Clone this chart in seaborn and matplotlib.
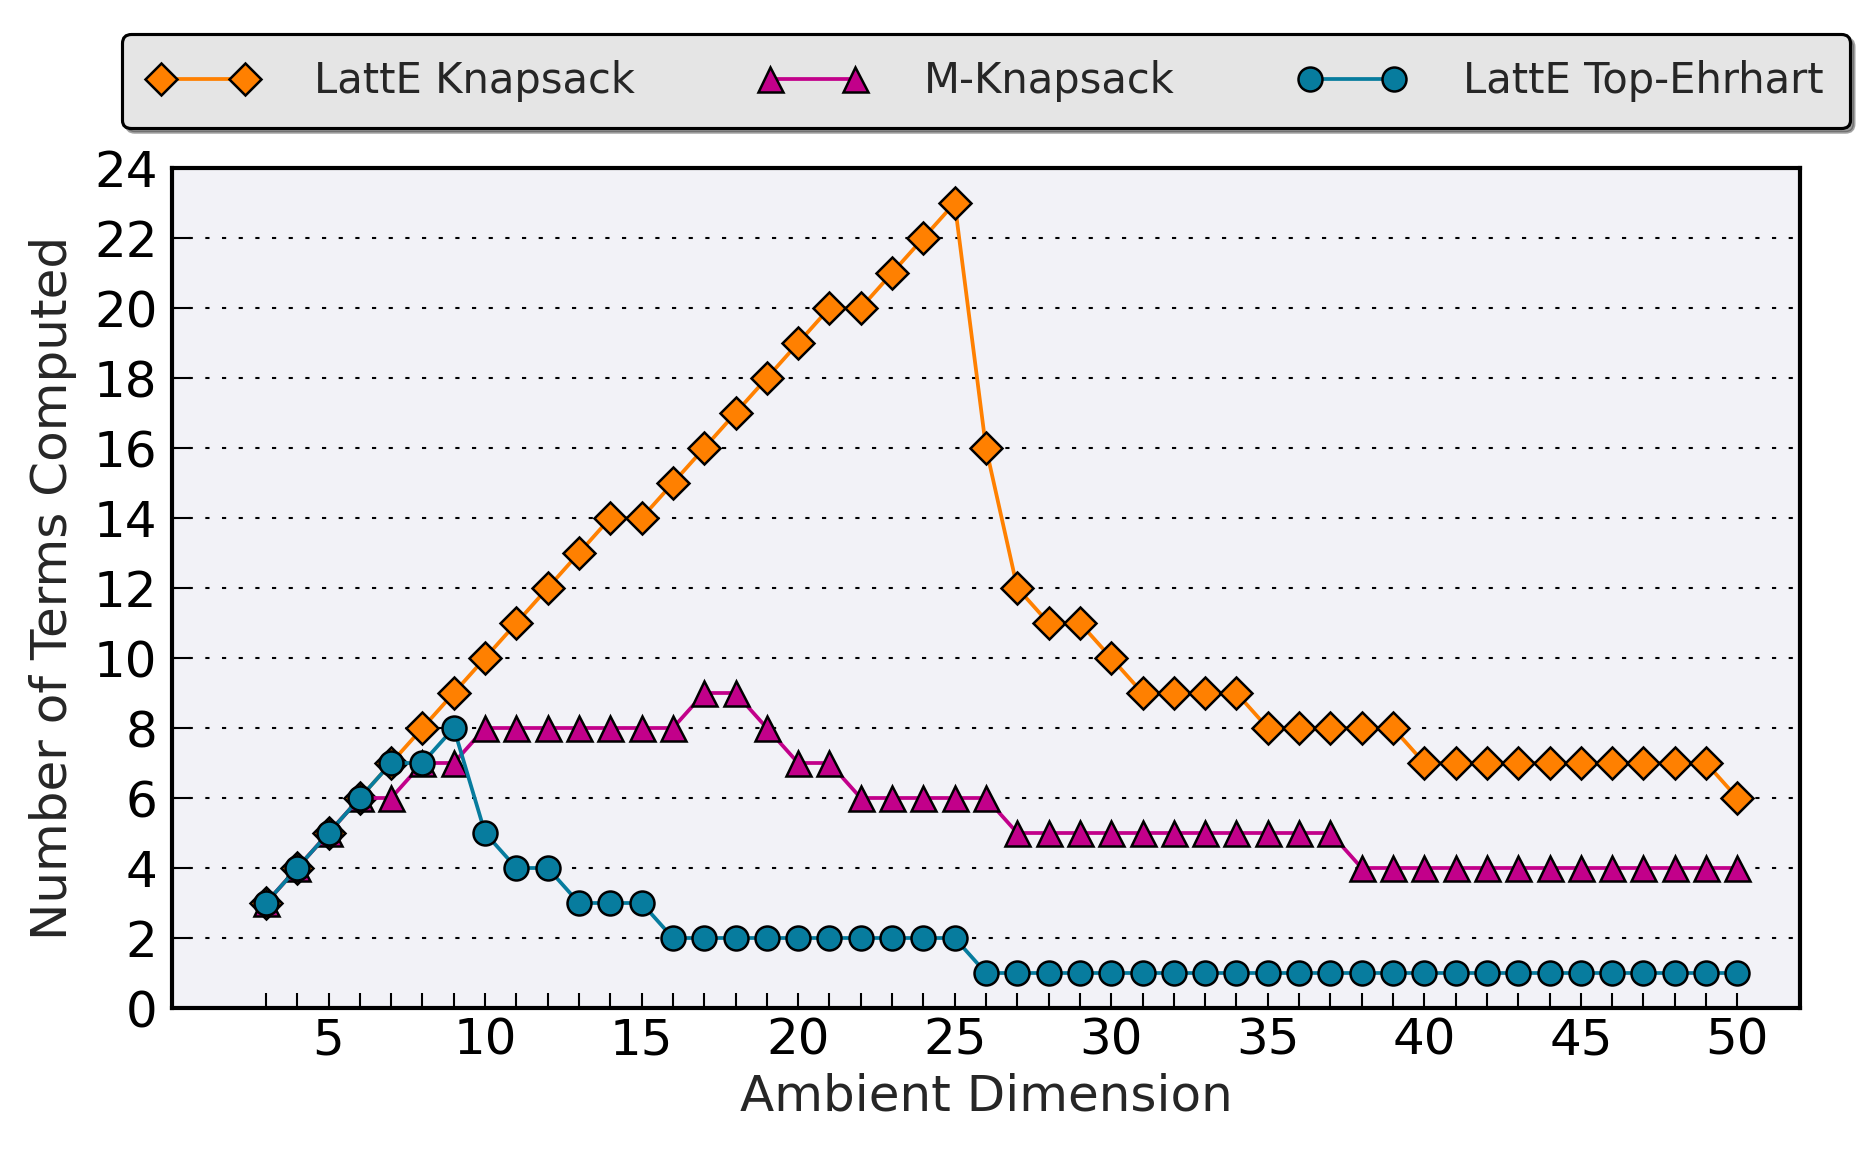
import matplotlib
matplotlib.use("Agg")
import matplotlib.pyplot as plt
import seaborn as sns

# ── data ────────────────────────────────────────────────────────────────────
dims = list(range(3, 51))

latte_knapsack = [3, 4, 5, 6, 7, 8, 9, 10, 11, 12, 13, 14, 14, 15, 16, 17,
                  18, 19, 20, 20, 21, 22, 23, 16, 12, 11, 11, 10, 9, 9, 9, 9,
                  8, 8, 8, 8, 8, 7, 7, 7, 7, 7, 7, 7, 7, 7, 7, 6]

m_knapsack = [3, 4, 5, 6, 6, 7, 7, 8, 8, 8, 8, 8, 8, 8, 9, 9,
              8, 7, 7, 6, 6, 6, 6, 6, 5, 5, 5, 5, 5, 5, 5, 5,
              5, 5, 5, 4, 4, 4, 4, 4, 4, 4, 4, 4, 4, 4, 4, 4]

latte_top_ehrhart = [3, 4, 5, 6, 7, 7, 8, 5, 4, 4, 3, 3, 3, 2, 2, 2,
                     2, 2, 2, 2, 2, 2, 2, 1, 1, 1, 1, 1, 1, 1, 1, 1,
                     1, 1, 1, 1, 1, 1, 1, 1, 1, 1, 1, 1, 1, 1, 1, 1]

series_names = ["LattE Knapsack", "M-Knapsack", "LattE Top-Ehrhart"]
y_ticks = list(range(0, 25, 2))
x_tick_labels = [str(d) if d % 5 == 0 else "" for d in dims]

# ── style ───────────────────────────────────────────────────────────────────
sns.set_style("ticks")
plt.rcParams["font.family"] = ["DejaVu Sans"]

styles = [
    dict(color="#ff8000", marker="D", markersize=11),
    dict(color="#c2008a", marker="^", markersize=12),
    dict(color="#077c9e", marker="o", markersize=11.5),
]

fig = plt.figure(figsize=(12.5, 1151 / 150), dpi=150)
ax = fig.add_axes([172 / 1875, 1 - 1008 / 1151, 1628 / 1875, 840 / 1151])
ax.set_facecolor("#f2f2f7")

for name, vals, st in zip(series_names,
                          [latte_knapsack, m_knapsack, latte_top_ehrhart],
                          styles):
    sns.lineplot(x=dims, y=vals, ax=ax, label=name, lw=1.8,
                 markeredgecolor="black", markeredgewidth=1.2, **st)

ax.set_xlim(0, 52)
ax.set_ylim(0, 24)
ax.set_xticks(dims)
ax.set_xticklabels(x_tick_labels)
ax.set_yticks(y_ticks)
ax.tick_params(axis="x", direction="in", length=7, width=1, pad=4,
               labelsize=24, colors="black")
ax.tick_params(axis="y", direction="in", length=9, width=1, pad=7,
               labelsize=24, colors="black")
ax.yaxis.grid(True, linestyle=(0, (2, 6)), color="black", lw=1)
ax.xaxis.grid(False)
ax.set_axisbelow(True)
for sp in ax.spines.values():
    sp.set_linewidth(2)
    sp.set_color("black")

ax.set_xlabel("Ambient Dimension", fontsize=24)
ax.set_ylabel("Number of Terms Computed", fontsize=24, labelpad=8)

handles = ax.get_lines()[:3]
leg = ax.legend(handles, series_names, loc="lower center",
                bbox_to_anchor=(0.5, 1.0), ncol=3, numpoints=2,
                fontsize=20, frameon=True, fancybox=True, shadow=True,
                framealpha=1, facecolor="#e5e5e5", edgecolor="black",
                handlelength=2.62, handletextpad=1.36, columnspacing=2.95,
                borderpad=0.62, borderaxespad=0.96)
leg.get_frame().set_linewidth(1.5)

fig.savefig("out.png", dpi=150)
